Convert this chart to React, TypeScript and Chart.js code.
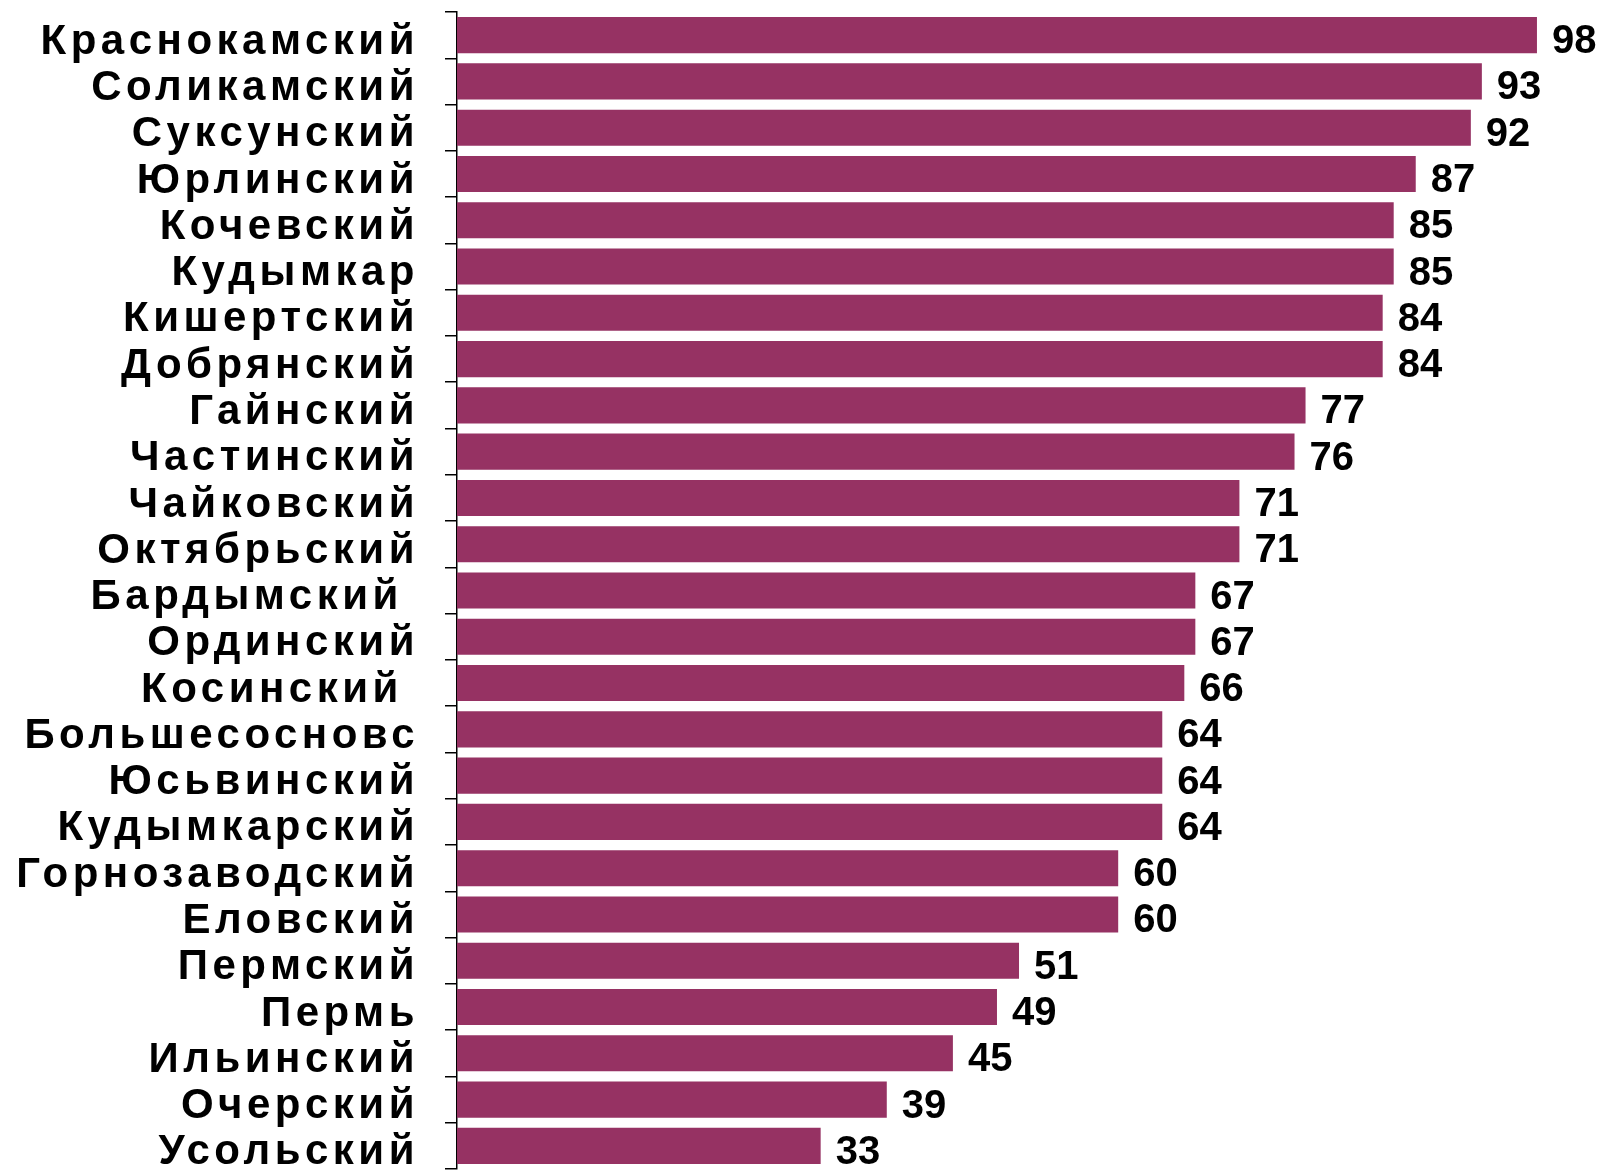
import React, { useEffect, useRef } from "react";
import { Chart, registerables } from "chart.js";

Chart.register(...registerables);

const categories: string[] = [
  "Краснокамский", "Соликамский", "Суксунский", "Юрлинский", "Кочевский",
  "Кудымкар", "Кишертский", "Добрянский", "Гайнский", "Частинский",
  "Чайковский", "Октябрьский", "Бардымский ", "Ординский", "Косинский ",
  "Большесосновс", "Юсьвинский", "Кудымкарский", "Горнозаводский", "Еловский",
  "Пермский", "Пермь", "Ильинский", "Очерский", "Усольский",
];

const values: number[] = [
  98, 93, 92, 87, 85, 85, 84, 84, 77, 76, 71, 71, 67, 67, 66, 64, 64, 64, 60, 60,
  51, 49, 45, 39, 33,
];

const xMin = 0;
const xMax = 100;

const BAR_COLOR = "#963263";
const FONT_FAMILY = "'Liberation Sans', Arial, sans-serif";

const valueLabels = {
  id: "valueLabels",
  beforeDraw(chart: any) {
    (chart.ctx as any).letterSpacing = "4.5px";
  },
  beforeDatasetsDraw(chart: any) {
    (chart.ctx as any).letterSpacing = "0px";
  },
  afterDatasetsDraw(chart: any) {
    const ctx = chart.ctx;
    const meta = chart.getDatasetMeta(0);
    ctx.save();
    (ctx as any).letterSpacing = "0px";
    ctx.font = `bold 40px ${FONT_FAMILY}`;
    ctx.fillStyle = "#000";
    ctx.textAlign = "left";
    ctx.textBaseline = "middle";
    meta.data.forEach((bar: any, i: number) => {
      ctx.fillText(String(values[i]), bar.x + 15, bar.y + 7);
    });
    ctx.restore();
  },
};

export default function App() {
  const ref = useRef<HTMLCanvasElement | null>(null);
  useEffect(() => {
    if (!ref.current) return;
    const chart = new Chart(ref.current, {
      type: "bar",
      data: {
        labels: categories,
        datasets: [
          {
            data: values,
            backgroundColor: BAR_COLOR,
            borderWidth: 0,
            barPercentage: 0.78,
            categoryPercentage: 1,
          },
        ],
      },
      options: {
        indexAxis: "y",
        responsive: false,
        animation: false,
        layout: { padding: { top: 12, right: 51, bottom: 2, left: 0 } },
        plugins: {
          legend: { display: false },
          tooltip: { enabled: false },
        },
        scales: {
          x: {
            display: false,
            min: xMin,
            max: xMax,
          },
          y: {
            offset: true,
            afterFit(scale: any) {
              scale.width = 457;
              scale.paddingTop = 0;
              scale.paddingBottom = 0;
            },
            border: { display: true, color: "#000", width: 1.5 },
            grid: {
              offset: true,
              drawOnChartArea: false,
              drawTicks: true,
              tickLength: 12,
              color: "#000",
              lineWidth: 1.5,
            },
            ticks: {
              color: "#000",
              padding: 26,
              autoSkip: false,
              labelOffset: 7,
              font: { family: FONT_FAMILY, weight: "bold", size: 42 },
            },
          },
        },
      },
      plugins: [valueLabels],
    });
    return () => chart.destroy();
  }, []);
  return (
    <canvas
      ref={ref}
      width={1610}
      height={1171}
      style={{ position: "absolute", left: 0, top: 0, display: "block", background: "#fff" }}
    />
  );
}
